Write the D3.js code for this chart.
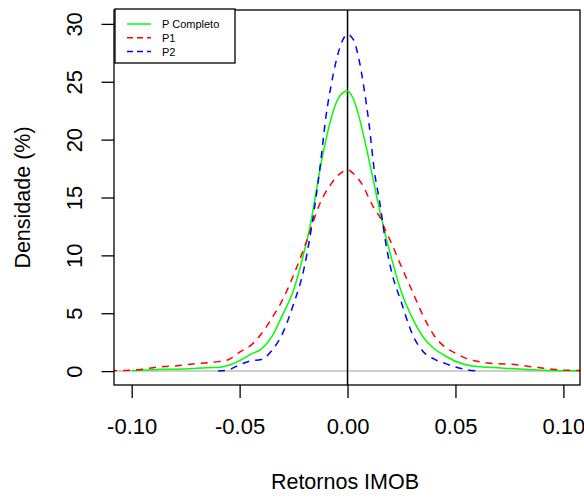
<!DOCTYPE html>
<html>
<head>
<meta charset="utf-8">
<script src="https://cdn.jsdelivr.net/npm/d3@7"></script>
<style>
  html, body { margin: 0; padding: 0; background: #fff; }
  svg { display: block; }
  text { font-family: "Liberation Sans", Arial, sans-serif; fill: #000; }
</style>
</head>
<body>
<svg id="chart" width="584" height="500"></svg>
<script>
// ---------- data ----------
const retornos = [
  -0.110, -0.105, -0.100, -0.095, -0.090, -0.085, -0.080, -0.075, -0.070, -0.065,
  -0.060, -0.055, -0.050, -0.045, -0.040, -0.035, -0.030, -0.025, -0.020, -0.0175,
  -0.015, -0.0125, -0.010, -0.0075, -0.005, -0.0025, 0.000, 0.0025, 0.005, 0.0075,
  0.010, 0.0125, 0.015, 0.0175, 0.020, 0.025, 0.030, 0.035, 0.040, 0.045,
  0.050, 0.055, 0.060, 0.065, 0.070, 0.075, 0.080, 0.085, 0.090, 0.095,
  0.100, 0.105, 0.110
];
const pCompleto = [
  null, null, 0.03, 0.08, 0.12, 0.17, 0.17, 0.18, 0.25, 0.30,
  0.32, 0.50, 0.90, 1.45, 1.90, 3.00, 4.90, 7.00, 10.4, 12.4,
  15.0, 17.7, 20.0, 21.9, 23.3, 24.0, 24.2, 23.6, 22.2, 20.3,
  18.2, 16.0, 13.8, 11.8, 10.0, 6.8, 4.6, 2.95, 1.95, 1.35,
  0.85, 0.55, 0.40, 0.33, 0.28, 0.22, 0.18, 0.12, 0.07, 0.05,
  0.04, 0.03, 0.03
];
const p1 = [
  0.03, 0.05, 0.08, 0.17, 0.30, 0.40, 0.45, 0.55, 0.64, 0.72,
  0.82, 1.00, 1.65, 2.20, 3.20, 4.60, 6.20, 8.30, 10.7, 12.0,
  13.4, 14.6, 15.5, 16.2, 16.8, 17.2, 17.4, 17.1, 16.6, 15.9,
  14.9, 14.0, 13.3, 12.2, 11.2, 9.0, 6.9, 4.8, 3.1, 2.1,
  1.55, 1.10, 0.85, 0.70, 0.64, 0.60, 0.52, 0.38, 0.27, 0.16,
  0.10, 0.06, 0.03
];
const p2 = [
  null, null, null, null, null, null, null, null, null, null,
  0.00, 0.12, 0.55, 0.88, 1.00, 1.80, 3.30, 5.80, 9.0, 11.5,
  14.5, 18.0, 22.0, 24.8, 27.0, 28.5, 29.1, 28.7, 27.2, 24.6,
  21.3, 17.2, 14.5, 11.3, 8.9, 5.9, 3.2, 1.7, 1.05, 0.68,
  0.35, 0.13, 0.02, null, null, null, null, null, null, null,
  null, null, null
];
const xTicks = [-0.10, -0.05, 0.00, 0.05, 0.10];
const yTicks = [0, 5, 10, 15, 20, 25, 30];
const seriesNames = ["P Completo", "P1", "P2"];
const seriesColors = ["#00ff00", "#ff0000", "#0000ff"];
const seriesDash = [null, "7,6", "7,6"];

// ---------- layout ----------
const svg = d3.select("#chart");
const L = 114, R = 580, T = 10, B = 385;
const x = d3.scaleLinear().domain([-0.1082, 0.1077]).range([L, R]);
const y = d3.scaleLinear().domain([-1.2, 31.2]).range([B, T]);

svg.append("defs").append("clipPath").attr("id", "clip")
  .append("rect").attr("x", L).attr("y", T).attr("width", R - L).attr("height", B - T);

const plot = svg.append("g").attr("clip-path", "url(#clip)");

// reference lines
plot.append("line")
  .attr("x1", L).attr("x2", R).attr("y1", y(0)).attr("y2", y(0))
  .attr("stroke", "#bebebe").attr("stroke-width", 1.5);
plot.append("line")
  .attr("x1", x(0)).attr("x2", x(0)).attr("y1", T).attr("y2", B)
  .attr("stroke", "#000").attr("stroke-width", 1.5);

// curves
const seriesValues = [pCompleto, p1, p2];
const line = d3.line()
  .defined(d => d[1] !== null)
  .x(d => x(d[0])).y(d => y(d[1]))
  .curve(d3.curveMonotoneX);
seriesValues.forEach((vals, i) => {
  const pts = retornos.map((r, j) => [r, vals[j]]);
  plot.append("path")
    .datum(pts)
    .attr("d", line)
    .attr("fill", "none")
    .attr("stroke", seriesColors[i])
    .attr("stroke-width", 1.5)
    .attr("stroke-dasharray", seriesDash[i]);
});

// frame
svg.append("rect").attr("x", L).attr("y", T).attr("width", R - L).attr("height", B - T)
  .attr("fill", "none").attr("stroke", "#000").attr("stroke-width", 1.3);

// x axis
const xAxis = svg.append("g").attr("transform", `translate(0,${B})`)
  .call(d3.axisBottom(x).tickValues(xTicks).tickFormat(d3.format(".2f")).tickSize(13).tickSizeOuter(0));
xAxis.select(".domain").remove();
xAxis.selectAll(".tick line").attr("stroke", "#000").attr("stroke-width", 1.3);
xAxis.selectAll(".tick text")
  .attr("y", 49).attr("dy", null)
  .style("font-size", "22px").style("font-family", "'Liberation Sans', Arial, sans-serif")
  .text(d => d3.format(".2f")(d).replace("−", "-"));

// y axis
const yAxis = svg.append("g").attr("transform", `translate(${L},0)`)
  .call(d3.axisLeft(y).tickValues(yTicks).tickSize(12.5).tickSizeOuter(0));
yAxis.select(".domain").remove();
yAxis.selectAll(".tick line").attr("stroke", "#000").attr("stroke-width", 1.3);
yAxis.selectAll(".tick text")
  .attr("x", null).attr("dy", null)
  .attr("text-anchor", "middle")
  .attr("transform", "translate(-32,0) rotate(-90)")
  .style("font-size", "22px").style("font-family", "'Liberation Sans', Arial, sans-serif");

// axis titles
svg.append("text").attr("x", (L + R) / 2 - 2).attr("y", 489)
  .attr("text-anchor", "middle").style("font-size", "21.5px")
  .text("Retornos IMOB");
svg.append("text")
  .attr("transform", `translate(30,${(T + B) / 2}) rotate(-90)`)
  .attr("text-anchor", "middle").style("font-size", "21.5px")
  .text("Densidade (%)");

// legend
const lg = svg.append("g");
lg.append("rect").attr("x", 115).attr("y", 9).attr("width", 120).attr("height", 54)
  .attr("fill", "#fff").attr("stroke", "#000").attr("stroke-width", 1.3);
seriesNames.forEach((name, i) => {
  const yy = 24 + i * 13.8;
  lg.append("line").attr("x1", 127).attr("x2", 151).attr("y1", yy).attr("y2", yy)
    .attr("stroke", seriesColors[i]).attr("stroke-width", 1.5)
    .attr("stroke-dasharray", seriesDash[i] ? "6,4" : null);
  lg.append("text").attr("x", 162).attr("y", yy + 4)
    .style("font-size", "11px").text(name);
});
</script>
</body>
</html>
